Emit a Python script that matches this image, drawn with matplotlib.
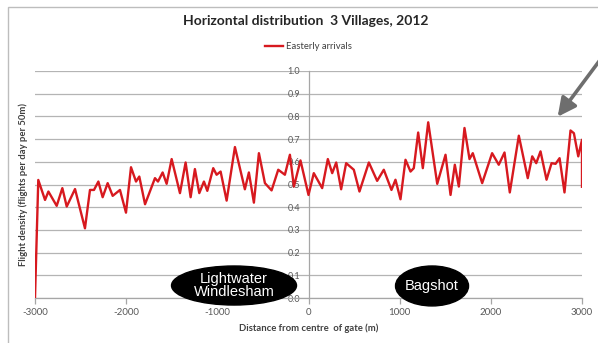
import matplotlib
matplotlib.use('Agg')
import matplotlib.pyplot as plt
from matplotlib.patches import Ellipse, Rectangle

plt.rcParams['font.family'] = ['Lato', 'DejaVu Sans']

# distance from centre of gate (m) and flight density
distance = [-3000, -2964, -2890, -2853, -2762, -2700, -2652, -2561, -2452, -2397,
            -2353, -2305, -2258, -2203, -2148, -2068, -2002, -1947, -1892, -1856,
            -1793, -1684, -1651, -1600, -1556, -1501, -1410, -1348, -1293, -1246,
            -1198, -1147, -1110, -1045, -1008, -964, -898, -807, -698, -654,
            -599, -544, -478, -405, -332, -259, -204, -160, -88, 0,
            58, 150, 212, 260, 304, 358, 413, 497, 559, 662,
            753, 826, 910, 954, 1009, 1064, 1119, 1155, 1203, 1254,
            1313, 1412, 1503, 1558, 1605, 1649, 1711, 1766, 1802, 1905,
            2014, 2087, 2150, 2208, 2307, 2405, 2454, 2498, 2545, 2611,
            2666, 2710, 2754, 2808, 2874, 2911, 2959, 3000, 3000]
density = [0.0, 0.52, 0.432, 0.469, 0.406, 0.484, 0.403, 0.48, 0.307, 0.476,
           0.476, 0.513, 0.444, 0.506, 0.45, 0.476, 0.376, 0.576, 0.513, 0.535,
           0.413, 0.528, 0.513, 0.553, 0.503, 0.612, 0.462, 0.597, 0.444, 0.568,
           0.462, 0.513, 0.472, 0.572, 0.543, 0.557, 0.429, 0.665, 0.479, 0.553,
           0.42, 0.638, 0.506, 0.474, 0.565, 0.543, 0.631, 0.491, 0.606, 0.454,
           0.55, 0.484, 0.612, 0.55, 0.597, 0.479, 0.594, 0.565, 0.469, 0.597,
           0.516, 0.565, 0.476, 0.521, 0.435, 0.609, 0.557, 0.572, 0.729, 0.572,
           0.774, 0.503, 0.631, 0.454, 0.587, 0.491, 0.749, 0.612, 0.638, 0.506,
           0.638, 0.587, 0.641, 0.465, 0.715, 0.528, 0.624, 0.594, 0.646, 0.521,
           0.594, 0.591, 0.616, 0.465, 0.738, 0.726, 0.624, 0.697, 0.49]

x_ticks = [-3000, -2000, -1000, 0, 1000, 2000, 3000]
y_ticks = [0.0, 0.1, 0.2, 0.3, 0.4, 0.5, 0.6, 0.7, 0.8, 0.9, 1.0]

# village labels: (text, centre x, centre y, width, height) in data units
villages = [('Lightwater\nWindlesham', -817, 0.055, 1371, 0.172),
            ('Bagshot', 1355, 0.053, 801, 0.176)]

fig = plt.figure(figsize=(5.98, 3.43), dpi=100)
ax = fig.add_axes([35/598, 1-298/343, 547/598, 227/343])

ax.plot(distance, density, color='#d7191f', lw=1.7, solid_joinstyle='round',
        label='Easterly arrivals', zorder=3)

ax.set_xlim(-3000, 3000)
ax.set_ylim(0, 1.0)
ax.set_xticks(x_ticks)
ax.set_yticks(y_ticks)
ax.set_xticklabels([str(v) for v in x_ticks])
ax.set_yticklabels(['%.1f' % v for v in y_ticks])
ax.grid(axis='y', color='#b4b4b4', lw=0.9)
ax.set_axisbelow(True)

for s in ['top', 'right']:
    ax.spines[s].set_visible(False)
ax.spines['left'].set_position(('data', 0))
ax.spines['left'].set_color('#a6a6a6')
ax.spines['bottom'].set_color('#a6a6a6')
ax.spines['bottom'].set_linewidth(0.9)
ax.spines['left'].set_linewidth(0.9)
ax.tick_params(axis='x', colors='#a6a6a6', length=4, width=0.9, labelcolor='#595959',
               labelsize=7, pad=3)
ax.tick_params(axis='y', length=0, labelcolor='#595959', labelsize=6.5, pad=6)

ax.set_xlabel('Distance from centre  of gate (m)', fontsize=6.8, fontweight='bold',
              color='#404040', labelpad=5)
ax.set_ylabel('Flight density (flights per day per 50m)', fontsize=6.8, fontweight='bold',
              color='#404040', labelpad=4)
ax.yaxis.set_label_coords(-0.013, 0.5)

fig.suptitle('Horizontal distribution  3 Villages, 2012', x=0.512, y=0.955,
             fontsize=10, fontweight='bold', color='#262626')
ax.legend(loc='lower center', bbox_to_anchor=(0.5, 1.05), frameon=False, fontsize=6.8,
          handlelength=1.9, handletextpad=0.4, labelcolor='#404040')

for name, cx, cy, w, h in villages:
    ax.add_patch(Ellipse((cx, cy), w, h, facecolor='black', edgecolor='black',
                         clip_on=False, zorder=5))
    ax.text(cx, cy, name, color='white', ha='center', va='center', fontsize=10.5,
            family='Liberation Sans', linespacing=0.95, zorder=6, clip_on=False)

# grey arrow pointing at the right-hand end
ax.annotate('', xy=(556, 343-119), xycoords='figure pixels',
            xytext=(603, 343-56), textcoords='figure pixels', annotation_clip=False,
            arrowprops=dict(arrowstyle='-|>,head_length=1.1,head_width=0.55',
                            color='#6e6e6e', lw=2.6))

# chart border
fig.patches.append(Rectangle((8/598, -0.1), 1.0, 1-7/343+0.1, transform=fig.transFigure,
                             fill=False, edgecolor='#bdbdbd', lw=1.0))

fig.savefig('out.png', dpi=100)
